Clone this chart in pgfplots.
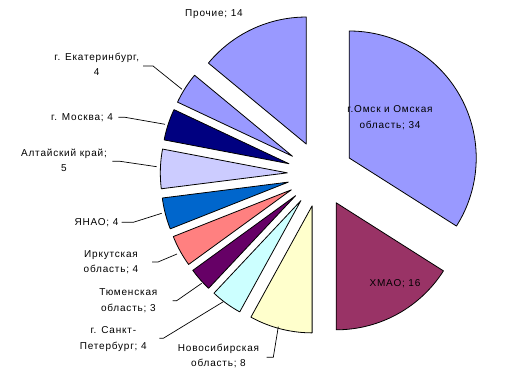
\documentclass[border=0pt]{standalone}
\usepackage{pgfplots}
\pgfplotsset{compat=1.18}
\usepackage{fontspec}
\setmainfont{Liberation Sans}[LetterSpace=8]
\definecolor{c1}{HTML}{9999FF}
\definecolor{c2}{HTML}{993366}
\definecolor{c3}{HTML}{FFFFCC}
\definecolor{c4}{HTML}{CCFFFF}
\definecolor{c5}{HTML}{660066}
\definecolor{c6}{HTML}{FF8080}
\definecolor{c7}{HTML}{0066CC}
\definecolor{c8}{HTML}{CCCCFF}
\definecolor{c9}{HTML}{000080}
\definecolor{c10}{HTML}{9999FF}
\definecolor{c11}{HTML}{9999FF}
\tikzset{lbl/.style={font=\fontsize{10}{15.5}\selectfont, align=center, inner sep=0pt}}
\newcommand{\pieR}{127}
\newcommand{\pieE}{33}
\newcommand{\pieX}{320.3}
\newcommand{\pieY}{195.1}
% #1 = cumulative share before the slice, #2 = value of the slice, #3 = colour
\newcommand{\slice}[3]{%
 \pgfmathsetmacro\sa{#1*3.6}%
 \pgfmathsetmacro\sb{(#1+#2)*3.6}%
 \pgfmathsetmacro\sm{(#1+#2/2)*3.6}%
 \pgfmathsetmacro\apx{\pieX+\pieE*sin(\sm)}%
 \pgfmathsetmacro\apy{\pieY+\pieE*cos(\sm)}%
 \edef\tmp{\noexpand\addplot[fill=#3,draw=black,line width=0.8pt,line join=round,domain=\sa:\sb,samples=90] ({\apx+\pieR*sin(x)},{\apy+\pieR*cos(x)}) -- (axis cs:\apx,\apy) -- cycle;}%
 \tmp}
\begin{document}
\begin{tikzpicture}
\begin{axis}[
  width=526pt, height=369pt, scale only axis,
  xmin=0, xmax=526, ymin=0, ymax=369,
  axis line style={draw=none}, ticks=none,
  clip=false,
]
\slice{0}{34}{c1}
\slice{34}{16}{c2}
\slice{50}{8}{c3}
\slice{58}{4}{c4}
\slice{62}{3}{c5}
\slice{65}{4}{c6}
\slice{69}{4}{c7}
\slice{73}{5}{c8}
\slice{78}{4}{c9}
\slice{82}{4}{c10}
\slice{86}{14}{c11}
% leader lines
\addplot[black, line width=0.7pt] coordinates {(143,303) (153,303) (182,279.7)};
\addplot[black, line width=0.7pt] coordinates {(118.3,251.7) (125,251.7) (165,244.7)};
\addplot[black, line width=0.7pt] coordinates {(112.3,207.7) (120,207.7) (156.7,202.3)};
\addplot[black, line width=0.7pt] coordinates {(121.7,146.7) (133.3,146.7) (161.7,155.7)};
\addplot[black, line width=0.7pt] coordinates {(152,107) (158,107) (177,115)};
\addplot[black, line width=0.7pt] coordinates {(172.7,68.3) (176.7,68.3) (201.7,85.7)};
\addplot[black, line width=0.7pt] coordinates {(159.3,30.7) (163.3,30.7) (223.3,67.3)};
\addplot[black, line width=0.7pt] coordinates {(266.7,11.7) (273.3,11.7) (278.3,42.3)};
% labels
\node[lbl] at (axis cs:214,355) {Прочие; 14};
\node[lbl] at (axis cs:96.7,304.8) {г. Екатеринбург,\\4};
\node[lbl] at (axis cs:82,251.5) {г. Москва; 4};
\node[lbl] at (axis cs:64,208.5) {Алтайский край;\\5};
\node[lbl] at (axis cs:96.5,146.7) {ЯНАО; 4};
\node[lbl] at (axis cs:111,107) {Иркутская\\область; 4};
\node[lbl] at (axis cs:128.3,68.2) {Тюменская\\область; 3};
\node[lbl] at (axis cs:113.3,29.8) {г. Санкт-\\Петербург; 4};
\node[lbl] at (axis cs:218.5,13.2) {Новосибирская\\область; 8};
\node[lbl] at (axis cs:395,85.7) {ХМАО; 16};
\node[lbl] at (axis cs:390,251.5) {г.Омск и Омская\\область; 34};
\end{axis}
\end{tikzpicture}
\end{document}
